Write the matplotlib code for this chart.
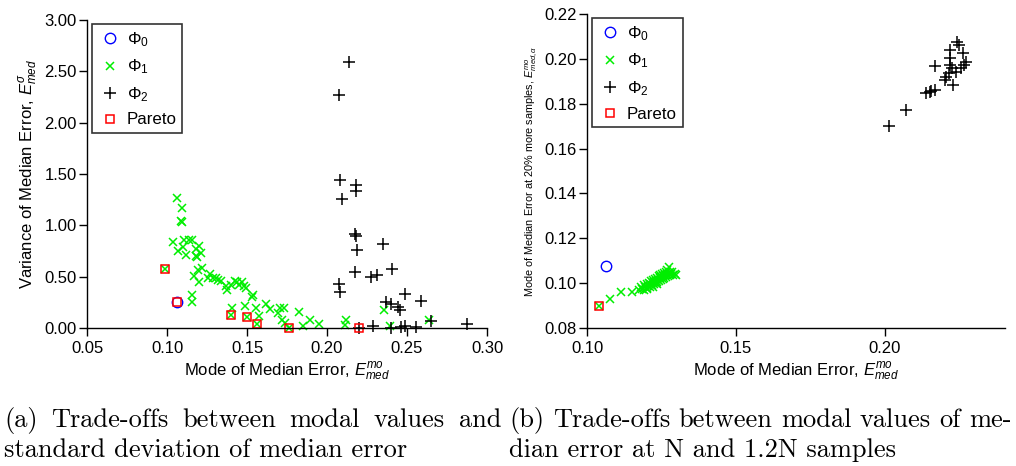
import matplotlib
matplotlib.use("Agg")
import matplotlib.pyplot as plt
from matplotlib.ticker import FormatStrFormatter

plt.rcParams["font.family"] = ["Liberation Sans", "DejaVu Sans"]
plt.rcParams["mathtext.fontset"] = "custom"
plt.rcParams["mathtext.rm"] = "Liberation Sans"
plt.rcParams["mathtext.it"] = "Liberation Sans:italic"
plt.rcParams["mathtext.bf"] = "Liberation Sans:bold"

# ---- (a) mode vs std of median error ----
a_phi0_x = [0.1065]
a_phi0_y = [0.250]

a_phi1_x = [0.1060, 0.1092, 0.1090, 0.1094, 0.1038, 0.1098, 0.1069, 0.1117, 0.1106, 0.1140,
            0.1158, 0.1183, 0.1200, 0.1215, 0.1180, 0.1190, 0.1169, 0.1196, 0.1220, 0.1200,
            0.1156, 0.1156, 0.0990, 0.1267, 0.1256, 0.1288, 0.1308, 0.1320, 0.1340, 0.1367,
            0.1377, 0.1398, 0.1423, 0.1438, 0.1450, 0.1469, 0.1481, 0.1492, 0.1538, 0.1531,
            0.1408, 0.1400, 0.1490, 0.1500, 0.1558, 0.1575, 0.1565, 0.1621, 0.1642, 0.1694,
            0.1704, 0.1731, 0.1721, 0.1735, 0.1760, 0.1825, 0.1850, 0.1896, 0.1950, 0.2117,
            0.2110, 0.2354, 0.2396, 0.2640]
a_phi1_y = [1.265, 1.164, 1.040, 1.030, 0.833, 0.790, 0.746, 0.710, 0.853, 0.853,
            0.853, 0.770, 0.795, 0.730, 0.700, 0.690, 0.503, 0.561, 0.584, 0.444,
            0.324, 0.250, 0.574, 0.525, 0.486, 0.486, 0.486, 0.464, 0.454, 0.412,
            0.366, 0.422, 0.460, 0.444, 0.422, 0.444, 0.412, 0.386, 0.324, 0.298,
            0.195, 0.123, 0.210, 0.110, 0.195, 0.120, 0.042, 0.237, 0.185, 0.146,
            0.195, 0.195, 0.081, 0.049, 0.003, 0.152, 0.023, 0.075, 0.036, 0.081,
            0.032, 0.178, 0.016, 0.075]

a_phi2_x = [0.2138, 0.2075, 0.2083, 0.2179, 0.2179, 0.2096, 0.2173, 0.2183, 0.2188, 0.2350,
            0.2173, 0.2408, 0.2277, 0.2315, 0.2075, 0.2083, 0.2485, 0.2590, 0.2371, 0.2398,
            0.2444, 0.2454, 0.2648, 0.2288, 0.2402, 0.2465, 0.2490, 0.2558, 0.2875, 0.2198]
a_phi2_y = [2.591, 2.273, 1.440, 1.391, 1.339, 1.258, 0.918, 0.898, 0.762, 0.820,
            0.548, 0.574, 0.496, 0.519, 0.428, 0.350, 0.334, 0.266, 0.250, 0.237,
            0.204, 0.178, 0.065, 0.023, 0.000, 0.006, 0.023, 0.006, 0.042, 0.000]

a_pareto_x = [0.0990, 0.1065, 0.1400, 0.1500, 0.1565, 0.1760, 0.2198]
a_pareto_y = [0.574, 0.250, 0.123, 0.110, 0.042, 0.003, 0.000]

# ---- (b) mode at N vs mode at 1.2N ----
b_phi0_x = [0.1064]
b_phi0_y = [0.1077]

b_phi1_x = [0.1041, 0.1077, 0.1115, 0.1152,
            0.1175, 0.1180, 0.1185, 0.1190, 0.1192, 0.1195, 0.1200, 0.1203, 0.1205, 0.1208,
            0.1210, 0.1213, 0.1215, 0.1217, 0.1220, 0.1222, 0.1224, 0.1226, 0.1228, 0.1230,
            0.1232, 0.1234, 0.1236, 0.1238, 0.1240, 0.1242, 0.1244, 0.1246, 0.1248, 0.1250,
            0.1252, 0.1254, 0.1256, 0.1258, 0.1260, 0.1262, 0.1264, 0.1266, 0.1268, 0.1270,
            0.1272, 0.1274, 0.1276, 0.1278, 0.1280, 0.1283, 0.1286, 0.1290, 0.1295, 0.1300,
            0.1220, 0.1200, 0.1235]
b_phi1_y = [0.0900, 0.0928, 0.0961, 0.0961,
            0.0970, 0.0985, 0.0975, 0.0990, 0.0968, 0.0982, 0.0995, 0.0978, 0.0988, 0.1002,
            0.0985, 0.0995, 0.1008, 0.0990, 0.1000, 0.1015, 0.0995, 0.1005, 0.1020, 0.1000,
            0.1010, 0.1025, 0.1005, 0.1015, 0.1030, 0.1010, 0.1022, 0.1035, 0.1015, 0.1027,
            0.1040, 0.1020, 0.1032, 0.1045, 0.1025, 0.1037, 0.1050, 0.1028, 0.1040, 0.1060,
            0.1032, 0.1045, 0.1070, 0.1038, 0.1050, 0.1040, 0.1048, 0.1035, 0.1042, 0.1038,
            0.0985, 0.0972, 0.0998]

b_phi2_x = [0.2013, 0.2070, 0.2139, 0.2150, 0.2155, 0.2167, 0.2167, 0.2200, 0.2206, 0.2214,
            0.2219, 0.2219, 0.2219, 0.2226, 0.2230, 0.2240, 0.2243, 0.2247, 0.2256, 0.2262,
            0.2267, 0.2273]
b_phi2_y = [0.1700, 0.1770, 0.1846, 0.1853, 0.1858, 0.1861, 0.1968, 0.1906, 0.1920, 0.1936,
            0.2040, 0.2002, 0.1973, 0.1958, 0.1883, 0.1943, 0.2076, 0.2062, 0.1958, 0.2025,
            0.1973, 0.1987]

b_pareto_x = [0.1041]
b_pareto_y = [0.0900]

GREEN = "#00ee00"
BLUE = "#0000ff"
RED = "#ff0000"


def scatter_sets(ax, p0, p1, p2, par):
    ax.plot(*p0, ls="none", marker="o", ms=7.5, mfc="none", mec=BLUE, mew=1.0,
            label=r"$\Phi_0$", clip_on=False)
    ax.plot(*p1, ls="none", marker="x", ms=6, color=GREEN, mew=1.1,
            label=r"$\Phi_1$", clip_on=False)
    ax.plot(*p2, ls="none", marker="+", ms=8.5, color="black", mew=1.1,
            label=r"$\Phi_2$", clip_on=False)
    ax.plot(*par, ls="none", marker="s", ms=5.8, mfc="none", mec=RED, mew=1.1,
            label="Pareto", clip_on=False)
    for s in ("top", "right"):
        ax.spines[s].set_visible(False)
    for s in ("left", "bottom"):
        ax.spines[s].set_linewidth(1.0)
    ax.tick_params(direction="out", length=5.5, width=1.0, labelsize=12)
    ax.tick_params(axis="x", pad=4)
    ax.tick_params(axis="y", pad=2)
    leg = ax.legend(loc="upper left", bbox_to_anchor=(0.012, 0.987), borderaxespad=0,
                    fontsize=12.2, frameon=True, fancybox=False, edgecolor="black",
                    handletextpad=0.3, labelspacing=0.52, borderpad=0.35,
                    handlelength=1.4)
    leg.get_frame().set_linewidth(1.2)


fig = plt.figure(figsize=(10.16, 4.66), dpi=100)
ax1 = fig.add_axes([87 / 1016, 1 - 328 / 466, 400 / 1016, 308 / 466])
ax2 = fig.add_axes([587 / 1016, 1 - 328 / 466, 418 / 1016, 314 / 466])

scatter_sets(ax1, (a_phi0_x, a_phi0_y), (a_phi1_x, a_phi1_y),
             (a_phi2_x, a_phi2_y), (a_pareto_x, a_pareto_y))
ax1.set_xlim(0.05, 0.30)
ax1.set_ylim(0.0, 3.0)
ax1.set_xticks([0.05, 0.10, 0.15, 0.20, 0.25, 0.30])
ax1.set_yticks([0.0, 0.5, 1.0, 1.5, 2.0, 2.5, 3.0])
ax1.xaxis.set_major_formatter(FormatStrFormatter("%.2f"))
ax1.yaxis.set_major_formatter(FormatStrFormatter("%.2f"))
ax1.set_xlabel(r"Mode of Median Error, $E^{mo}_{med}$", fontsize=12, labelpad=3)
ax1.set_ylabel(r"Variance of Median Error, $E^{\sigma}_{med}$", fontsize=12, labelpad=3)

scatter_sets(ax2, (b_phi0_x, b_phi0_y), (b_phi1_x, b_phi1_y),
             (b_phi2_x, b_phi2_y), (b_pareto_x, b_pareto_y))
ax2.set_xlim(0.10, 0.2403)
ax2.set_ylim(0.08, 0.22)
ax2.set_xticks([0.10, 0.15, 0.20])
ax2.set_yticks([0.08, 0.10, 0.12, 0.14, 0.16, 0.18, 0.20, 0.22])
ax2.xaxis.set_major_formatter(FormatStrFormatter("%.2f"))
ax2.yaxis.set_major_formatter(FormatStrFormatter("%.2f"))
ax2.set_xlabel(r"Mode of Median Error, $E^{mo}_{med}$", fontsize=12, labelpad=3)
ax2.set_ylabel(r"Mode of Median Error at 20% more samples, $E^{mo}_{med,\alpha}$",
               fontsize=7.8, labelpad=4)

# captions (LaTeX-like, first line justified)
cap_kw = dict(family="cmr10", fontsize=19, va="baseline", ha="left")


def justified_line(words, x0, x1, y):
    texts = [fig.text(0, y, w, **cap_kw) for w in words]
    r = fig.canvas.get_renderer()
    widths = [t.get_window_extent(r).width for t in texts]
    W = fig.bbox.width
    gap = ((x1 - x0) * W - sum(widths)) / (len(words) - 1)
    x = x0 * W
    for t, w in zip(texts, widths):
        t.set_x(x / W)
        x += w + gap


y1 = 1 - 427 / 466
y2 = 1 - 457 / 466
justified_line("(a) Trade-offs between modal values and".split(), 4 / 1016, 501 / 1016, y1)
fig.text(4 / 1016, y2, "standard deviation of median error", **cap_kw)
justified_line("(b) Trade-offs between modal values of me-".split(), 509 / 1016, 1012 / 1016, y1)
fig.text(509 / 1016, y2, "dian error at N and 1.2N samples", **cap_kw)

fig.savefig("out.png", dpi=100)
